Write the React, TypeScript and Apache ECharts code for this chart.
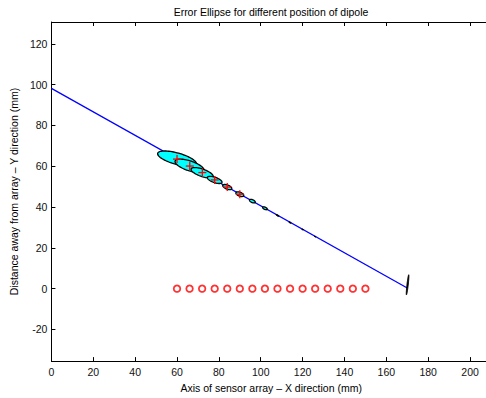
import React, { useEffect, useRef } from "react";
import * as echarts from "echarts";

const titleText = "Error Ellipse for different position of dipole";
const xAxisTitle = "Axis of sensor array – X direction (mm)";
const yAxisTitle = "Distance away from array – Y direction (mm)";

const xTicks = [0, 20, 40, 60, 80, 100, 120, 140, 160, 180, 200];
const yTicks = [-20, 0, 20, 40, 60, 80, 100, 120];

// dipole path (blue line)
const pathX = [0, 170];
const pathY = [98.2, 0.3];

// sensor positions (red circles)
const sensorX = [60, 66, 72, 78, 84, 90, 96, 102, 108, 114, 120, 126, 132, 138, 144, 150];
const sensorY = [0, 0, 0, 0, 0, 0, 0, 0, 0, 0, 0, 0, 0, 0, 0, 0];

// error ellipses: centre x, centre y, semi-major, semi-minor, angle (deg)
const ellX = [60, 66, 72, 78, 84, 90, 96, 102, 108, 114, 120, 126, 170.15];
const ellY = [63.7, 60.2, 56.8, 53.3, 49.8, 46.3, 42.9, 39.4, 35.9, 32.4, 29.0, 25.5, 1.9];
const ellA = [9.6, 7.3, 5.6, 3.7, 2.3, 2.0, 1.5, 1.2, 0.8, 0.6, 0.4, 0.35, 4.95];
const ellB = [2.8, 2.4, 1.8, 1.3, 1.0, 0.95, 0.7, 0.55, 0.3, 0.25, 0.2, 0.2, 0.3];
const ellAng = [-16, -19, -20, -20, -22, -22, -25, -25, -28, -28, -30, -30, 83.6];

// estimated positions (red crosses)
const estX = [60, 66.1, 72.1, 78, 84, 90];
const estY = [63.5, 60.1, 56.9, 53.3, 49.8, 46.3];

const FONT = "'Liberation Sans', Arial, Helvetica, sans-serif";

export default function App() {
  const ref = useRef<HTMLDivElement>(null);
  useEffect(() => {
    if (!ref.current) return;
    const chart = echarts.init(ref.current, null, { renderer: "svg" });

    const ellData = ellX.map((x, i) => [x, ellY[i], ellA[i], ellB[i], ellAng[i]]);
    const crossData = estX.map((x, i) => [x, estY[i]]);

    const axisCommon = {
      axisLine: { show: true, onZero: false, lineStyle: { color: "#000", width: 1 } },
      splitLine: { show: false },
    };

    chart.setOption({
      animation: false,
      backgroundColor: "#fff",
      textStyle: { fontFamily: FONT },
      grid: { left: 51, top: 22, right: 4, bottom: 29, containLabel: false },
      graphic: [
        {
          type: "text",
          x: 271,
          y: 11.5,
          style: {
            text: titleText,
            fontSize: 10.5,
            fontFamily: FONT,
            fill: "#000",
            align: "center",
            verticalAlign: "middle",
          },
        },
      ],
      xAxis: [
        {
          type: "value",
          min: 0,
          max: 210,
          position: "bottom",
          name: xAxisTitle,
          nameLocation: "middle",
          nameGap: 15,
          nameTextStyle: { fontSize: 10.5, color: "#000", fontFamily: FONT, verticalAlign: "top" },
          ...axisCommon,
          axisTick: { show: true, inside: true, length: 4, customValues: xTicks, lineStyle: { color: "#000" } },
          axisLabel: { show: true, margin: 5, fontSize: 10.5, color: "#111", fontFamily: FONT, customValues: xTicks },
        },
        {
          type: "value",
          min: 0,
          max: 210,
          position: "top",
          ...axisCommon,
          axisTick: { show: true, inside: true, length: 4, customValues: xTicks, lineStyle: { color: "#000" } },
          axisLabel: { show: false },
        },
      ],
      yAxis: [
        {
          type: "value",
          min: -35.5,
          max: 130.7,
          position: "left",
          name: yAxisTitle,
          nameLocation: "middle",
          nameGap: 26,
          nameRotate: 90,
          nameTextStyle: { fontSize: 10.5, color: "#000", fontFamily: FONT },
          ...axisCommon,
          axisTick: { show: true, inside: true, length: 4, customValues: yTicks, lineStyle: { color: "#000" } },
          axisLabel: { show: true, margin: 4, fontSize: 10.5, color: "#111", fontFamily: FONT, customValues: yTicks },
        },
      ],
      series: [
        {
          type: "line",
          data: pathX.map((x, i) => [x, pathY[i]]),
          showSymbol: false,
          symbol: "none",
          lineStyle: { color: "#0000ff", width: 1.3 },
          z: 2,
        },
        {
          type: "custom",
          data: ellData,
          clip: true,
          z: 3,
          renderItem: (params: any, api: any) => {
            const cx = api.value(0);
            const cy = api.value(1);
            const a = api.value(2);
            const b = api.value(3);
            const t = (api.value(4) * Math.PI) / 180;
            const pts: number[][] = [];
            const n = 72;
            for (let k = 0; k < n; k++) {
              const th = (2 * Math.PI * k) / n;
              const ex = a * Math.cos(th);
              const ey = b * Math.sin(th);
              const dx = ex * Math.cos(t) - ey * Math.sin(t);
              const dy = ex * Math.sin(t) + ey * Math.cos(t);
              pts.push(api.coord([cx + dx, cy + dy]));
            }
            const thin = b < 0.5;
            return {
              type: "polygon",
              shape: { points: pts },
              style: {
                fill: thin ? "#000" : "#00ffff",
                stroke: "#000",
                lineWidth: thin ? 1 : 1.3,
              },
            };
          },
        },
        {
          type: "custom",
          data: crossData,
          z: 4,
          renderItem: (params: any, api: any) => {
            const p = api.coord([api.value(0), api.value(1)]);
            const h = 4;
            return {
              type: "group",
              children: [
                {
                  type: "line",
                  shape: { x1: p[0] - h, y1: p[1], x2: p[0] + h, y2: p[1] },
                  style: { stroke: "#ff0000", lineWidth: 1.3 },
                },
                {
                  type: "line",
                  shape: { x1: p[0], y1: p[1] - h, x2: p[0], y2: p[1] + h },
                  style: { stroke: "#ff0000", lineWidth: 1.3 },
                },
              ],
            };
          },
        },
        {
          type: "scatter",
          data: sensorX.map((x, i) => [x, sensorY[i]]),
          symbol: "circle",
          symbolSize: 6.5,
          itemStyle: { color: "#fff", borderColor: "#ff0000", borderWidth: 1.8 },
          z: 5,
        },
      ],
    });
    return () => chart.dispose();
  }, []);

  return (
    <div
      ref={ref}
      style={{ position: "fixed", left: 0, top: 0, width: 495, height: 398, background: "#fff" }}
    />
  );
}
